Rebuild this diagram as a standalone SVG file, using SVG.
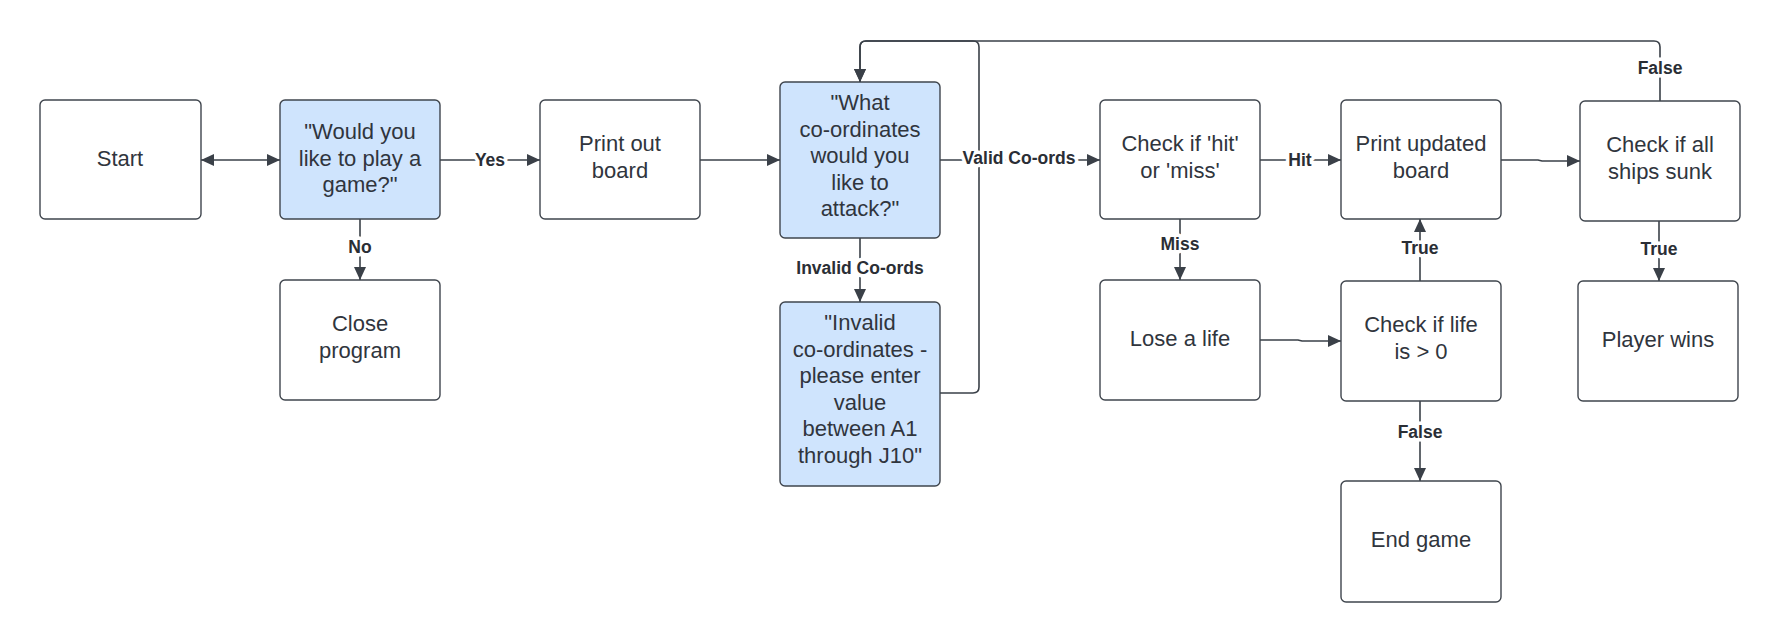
<svg xmlns="http://www.w3.org/2000/svg" width="1780" height="641" viewBox="0 0 1780 641">
<style>
.n rect{fill:#ffffff;stroke:#3f454d;stroke-width:1.4}
.n.b rect{fill:#cfe4fd}
.n text{font-family:"Liberation Sans",Arial,sans-serif;font-size:22px;fill:#30353d;text-anchor:middle}
.c path{fill:none;stroke:#3a4048;stroke-width:1.6}
.c text{font-family:"Liberation Sans",Arial,sans-serif;font-size:17.5px;font-weight:bold;fill:#2a2e35;text-anchor:middle;stroke:#ffffff;stroke-width:7;paint-order:stroke;stroke-linejoin:round}
</style>
<defs>
<marker id="ah" markerUnits="userSpaceOnUse" markerWidth="14" markerHeight="12" refX="13" refY="6" orient="auto">
<path d="M0,0 L13,6 L0,12 Z" fill="#3a4048"/>
</marker>
<marker id="as" markerUnits="userSpaceOnUse" markerWidth="14" markerHeight="12" refX="0" refY="6" orient="auto">
<path d="M13,0 L0,6 L13,12 Z" fill="#3a4048"/>
</marker>
</defs>
<rect width="1780" height="641" fill="#ffffff"/>
<g id="connectors" class="c">
<path d="M201,160 H280" marker-start="url(#as)" marker-end="url(#ah)"/>
<path d="M440,160 H540" marker-end="url(#ah)"/>
<path d="M360,219 V280" marker-end="url(#ah)"/>
<path d="M700,160 H780" marker-end="url(#ah)"/>
<path d="M860,238 V302" marker-end="url(#ah)"/>
<path d="M940,160 H1100" marker-end="url(#ah)"/>
<path d="M1260,160 H1341" marker-end="url(#ah)"/>
<path d="M1501,160 H1538 L1542,161 H1580" marker-end="url(#ah)"/>
<path d="M1180,219 V280" marker-end="url(#ah)"/>
<path d="M1260,340 H1298 L1302,341 H1341" marker-end="url(#ah)"/>
<path d="M1420,281 V219" marker-end="url(#ah)"/>
<path d="M1659,221 V281" marker-end="url(#ah)"/>
<path d="M1420,401 V481" marker-end="url(#ah)"/>
<path d="M940,393 H973 Q979,393 979,387 V47 Q979,41 973,41 H866 Q860,41 860,47 V82" marker-end="url(#ah)"/>
<path d="M1660,101 V47 Q1660,41 1654,41 H866 Q860,41 860,47 V82" marker-end="url(#ah)"/>
<text x="490" y="166">Yes</text>
<text x="360" y="253">No</text>
<text x="860" y="274">Invalid Co-ords</text>
<text x="1019" y="164">Valid Co-ords</text>
<text x="1300" y="166">Hit</text>
<text x="1180" y="250">Miss</text>
<text x="1420" y="254">True</text>
<text x="1659" y="255">True</text>
<text x="1420" y="438">False</text>
<text x="1660" y="74">False</text>
</g>
<g id="start" class="n"><rect x="40" y="100" width="161" height="119" rx="5"/><text x="120" y="166">Start</text></g>
<g id="play" class="n b"><rect x="280" y="100" width="160" height="119" rx="5"/><text x="360" y="139">"Would you</text><text x="360" y="165.5">like to play a</text><text x="360" y="192">game?"</text></g>
<g id="close" class="n"><rect x="280" y="280" width="160" height="120" rx="5"/><text x="360" y="331">Close</text><text x="360" y="357.5">program</text></g>
<g id="print" class="n"><rect x="540" y="100" width="160" height="119" rx="5"/><text x="620" y="151">Print out</text><text x="620" y="177.5">board</text></g>
<g id="ask" class="n b"><rect x="780" y="82" width="160" height="156" rx="5"/><text x="860" y="110">"What</text><text x="860" y="136.5">co-ordinates</text><text x="860" y="163">would you</text><text x="860" y="189.5">like to</text><text x="860" y="216">attack?"</text></g>
<g id="invalid" class="n b"><rect x="780" y="302" width="160" height="184" rx="5"/><text x="860" y="330">"Invalid</text><text x="860" y="356.5">co-ordinates -</text><text x="860" y="383">please enter</text><text x="860" y="409.5">value</text><text x="860" y="436">between A1</text><text x="860" y="462.5">through J10"</text></g>
<g id="hitmiss" class="n"><rect x="1100" y="100" width="160" height="119" rx="5"/><text x="1180" y="151">Check if 'hit'</text><text x="1180" y="177.5">or 'miss'</text></g>
<g id="updated" class="n"><rect x="1341" y="100" width="160" height="119" rx="5"/><text x="1421" y="151">Print updated</text><text x="1421" y="177.5">board</text></g>
<g id="sunk" class="n"><rect x="1580" y="101" width="160" height="120" rx="5"/><text x="1660" y="152">Check if all</text><text x="1660" y="178.5">ships sunk</text></g>
<g id="lose" class="n"><rect x="1100" y="280" width="160" height="120" rx="5"/><text x="1180" y="346">Lose a life</text></g>
<g id="life" class="n"><rect x="1341" y="281" width="160" height="120" rx="5"/><text x="1421" y="332">Check if life</text><text x="1421" y="358.5">is &gt; 0</text></g>
<g id="wins" class="n"><rect x="1578" y="281" width="160" height="120" rx="5"/><text x="1658" y="347">Player wins</text></g>
<g id="end" class="n"><rect x="1341" y="481" width="160" height="121" rx="5"/><text x="1421" y="547">End game</text></g>
</svg>
